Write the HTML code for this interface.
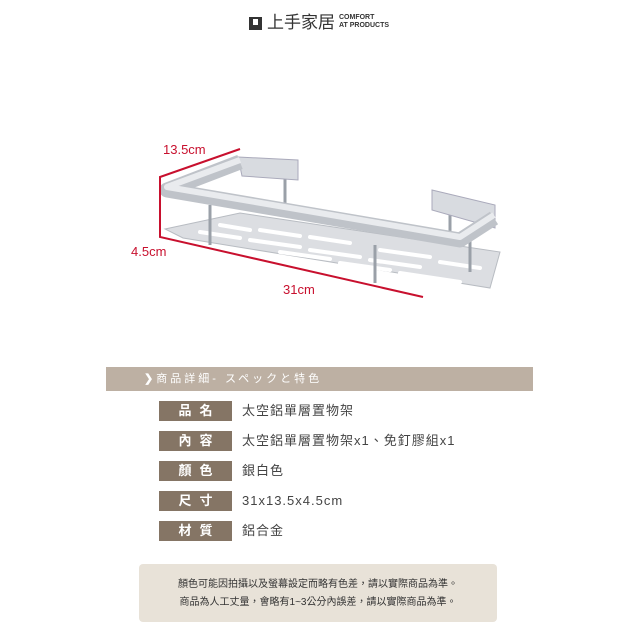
<!DOCTYPE html>
<html><head><meta charset="utf-8"><style>
body{margin:0;width:640px;height:640px;background:#fff;position:relative;overflow:hidden;font-family:"Liberation Sans","Noto Sans CJK TC",sans-serif}
.a{position:absolute}
.lbl{position:absolute;left:159px;width:73px;height:20px;background:#857565;color:#fff;font-weight:bold;font-size:13px;line-height:20px;text-align:center;letter-spacing:8px;text-indent:8px}
.val{position:absolute;left:242px;font-size:13px;color:#444;line-height:20px;letter-spacing:1px}
</style></head><body>
<div class="a" style="left:249px;top:17px;width:13px;height:13px;background:#333"></div>
<div class="a" style="left:253px;top:19px;width:5px;height:6px;background:#fff"></div>
<div class="a" style="left:267px;top:12px;font-size:17px;color:#333;line-height:22px">上手家居</div>
<div class="a" style="left:339px;top:14px;font-size:7px;font-weight:bold;color:#333;line-height:8px">COMFORT<br>AT PRODUCTS</div>

<svg class="a" style="left:0;top:0" width="640" height="340">
<polygon points="165,229 240,213 500,252 490,288 183,238" fill="#dcdee2" stroke="#b8bcc2"/>
<g stroke="#fff" stroke-width="4" stroke-linecap="round">
<line x1="220" y1="225" x2="250" y2="230"/><line x1="260" y1="230" x2="300" y2="236"/><line x1="310" y1="237" x2="350" y2="243"/>
<line x1="200" y1="232" x2="240" y2="238"/><line x1="250" y1="240" x2="300" y2="247"/><line x1="310" y1="250" x2="360" y2="257"/><line x1="370" y1="260" x2="420" y2="267"/>
<line x1="280" y1="252" x2="330" y2="259"/><line x1="340" y1="263" x2="390" y2="270"/><line x1="400" y1="273" x2="460" y2="282"/>
<line x1="380" y1="250" x2="430" y2="257"/><line x1="440" y1="262" x2="480" y2="268"/>
</g>
<g stroke="#9aa0a8" stroke-width="3"><line x1="210" y1="205" x2="210" y2="245"/><line x1="375" y1="245" x2="375" y2="283"/><line x1="470" y1="232" x2="470" y2="272"/><line x1="285" y1="170" x2="285" y2="205"/><line x1="450" y1="205" x2="450" y2="235"/></g>
<polygon points="238,157 298,160 298,180 242,176" fill="#d8dbe0" stroke="#aab"/>
<polygon points="432,190 495,205 495,228 432,210" fill="#d8dbe0" stroke="#aab"/>
<polyline points="240,162 167,190 460,240 494,218" fill="none" stroke="#bfc3c9" stroke-width="15" stroke-linejoin="round"/>
<polyline points="240,160 167,187 460,237 494,215" fill="none" stroke="#e9ebee" stroke-width="6" stroke-linejoin="round"/>
<polyline points="240,149 160,177 160,237 423,297" fill="none" stroke="#c8102e" stroke-width="2"/>
<text x="163" y="154" font-size="13" fill="#c8102e" font-family="Liberation Sans">13.5cm</text>
<text x="131" y="256" font-size="13" fill="#c8102e" font-family="Liberation Sans">4.5cm</text>
<text x="283" y="294" font-size="13" fill="#c8102e" font-family="Liberation Sans">31cm</text>
</svg>

<div class="a" style="left:106px;top:367px;width:427px;height:24px;background:#bdb0a3"></div>
<div class="a" style="left:144px;top:371px;font-size:11px;color:#fff;line-height:16px;letter-spacing:3px"><b>❯</b>商品詳細- スペックと特色</div>

<div class="lbl" style="top:401px">品名</div><div class="val" style="top:401px">太空鋁單層置物架</div>
<div class="lbl" style="top:431px">內容</div><div class="val" style="top:431px">太空鋁單層置物架x1、免釘膠組x1</div>
<div class="lbl" style="top:461px">顏色</div><div class="val" style="top:461px">銀白色</div>
<div class="lbl" style="top:491px">尺寸</div><div class="val" style="top:491px">31x13.5x4.5cm</div>
<div class="lbl" style="top:521px">材質</div><div class="val" style="top:521px">鋁合金</div>

<div class="a" style="left:139px;top:564px;width:358px;height:58px;background:#e8e2d8;border-radius:4px"></div>
<div class="a" style="left:139px;top:576px;width:358px;text-align:center;font-size:10px;color:#333;line-height:18px">顏色可能因拍攝以及螢幕設定而略有色差，請以實際商品為準。<br>商品為人工丈量，會略有1~3公分內誤差，請以實際商品為準。</div>
</body></html>
